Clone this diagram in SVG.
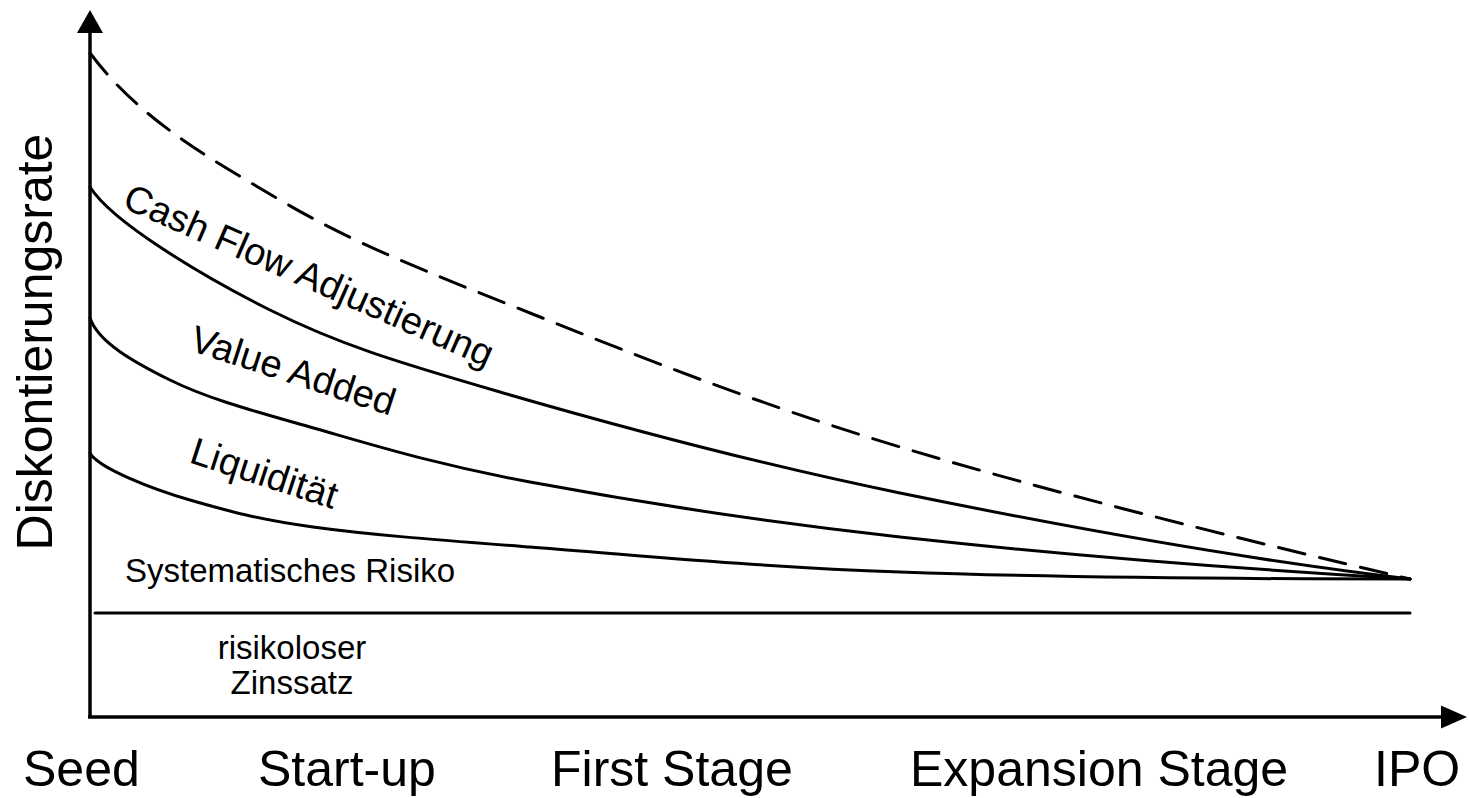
<svg xmlns="http://www.w3.org/2000/svg" width="1469" height="798" viewBox="0 0 1469 798">
  <style>
    .ln { fill: none; stroke: #000; stroke-width: 3; stroke-linecap: round; stroke-linejoin: round; }
    .dash { stroke-dasharray: 27 15; }
    .ax { fill: none; stroke: #000; stroke-width: 3.5; }
    .head { fill: #000; stroke: none; }
    text { font-family: "Liberation Sans", Arial, sans-serif; fill: #000; }
    .big { font-size: 50px; }
    .lbl { font-size: 38px; }
    .sm { font-size: 33px; }
  </style>
  <rect width="1469" height="798" fill="#fff"/>
  <g id="axes">
    <line class="ax" x1="90" y1="718" x2="90" y2="28"/>
    <polygon class="head" points="90,10 77,33 103,33"/>
    <line class="ax" x1="88" y1="717" x2="1446" y2="717"/>
    <polygon class="head" points="1467,717 1441,705.5 1441,728.5"/>
  </g>
  <g id="connectors">
    <path id="dashed" class="ln dash" d="M90,53 C140,119.7 206.7,156.7 280,200 C353.3,243.3 426.7,271.8 530,313 C633.3,354.2 753.3,402.7 900,447 C1046.7,491.3 1240,539 1410,579"/>
    <path id="cashflow" class="ln" d="M90,187 C112,222 201.7,275.8 270,310 C338.3,344.2 395,361.5 500,392 C605,422.5 748.3,461.8 900,493 C1051.7,524.2 1240,559 1410,579"/>
    <path id="valueadded" class="ln" d="M90,318 C98,342 133.3,361.8 170,380 C206.7,398.2 250,410 310,427 C370,444 431.7,463.7 530,482 C628.3,500.3 753.3,520.8 900,537 C1046.7,553.2 1240,569 1410,579"/>
    <path id="liquiditaet" class="ln" d="M90,453 C98,468 152.8,489.3 190,500 C227.2,510.7 256.3,519.2 313,527 C369.7,534.8 432.2,539.5 530,547 C627.8,554.5 753.3,566.7 900,572 C1046.7,577.3 1240,579 1410,579"/>
    <line id="riskfree" class="ln" x1="95" y1="613" x2="1410" y2="613"/>
  </g>
  <g id="ylabel">
    <text class="big" text-anchor="middle" transform="translate(52,342) rotate(-90)">Diskontierungsrate</text>
  </g>
  <g id="curve-labels">
    <text class="lbl" transform="translate(121,207) rotate(23.7)">Cash Flow Adjustierung</text>
    <text class="lbl" transform="translate(188,350) rotate(18)">Value Added</text>
    <text class="lbl" transform="translate(188,462) rotate(18)">Liquidität</text>
    <text class="sm" x="125" y="582">Systematisches Risiko</text>
    <text class="sm" text-anchor="middle" x="292" y="659">risikoloser</text>
    <text class="sm" text-anchor="middle" x="292" y="694">Zinssatz</text>
  </g>
  <g id="stages">
    <text class="big" x="23" y="786">Seed</text>
    <text class="big" x="258" y="786">Start-up</text>
    <text class="big" x="551" y="786">First Stage</text>
    <text class="big" x="910" y="786">Expansion Stage</text>
    <text class="big" x="1374" y="786">IPO</text>
  </g>
</svg>
